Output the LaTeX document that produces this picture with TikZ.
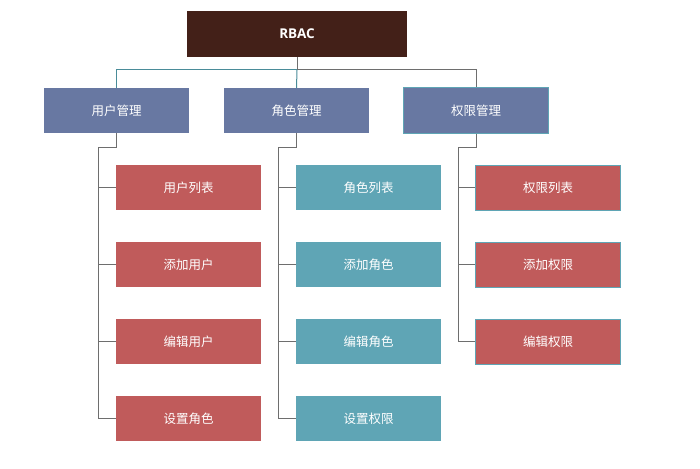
\documentclass[tikz,border=0pt]{standalone}
\usepackage{fontspec}
\setmainfont{Open Sans}
\newfontfamily\cjk{Noto Sans CJK SC}
\definecolor{rootc}{HTML}{432018}
\definecolor{midc}{HTML}{6878A2}
\definecolor{redc}{HTML}{C05B5B}
\definecolor{tealc}{HTML}{5FA5B5}
\definecolor{linec}{HTML}{6E6E6E}
\definecolor{lineteal}{HTML}{4A8C99}
\begin{document}
\begin{tikzpicture}[x=1pt,y=-1pt,
  box/.style={minimum width=145pt,minimum height=45pt,inner sep=0pt,text=white,font=\cjk\fontsize{12.5}{14}\selectfont},
  rootbox/.style={box,fill=rootc,minimum width=220pt,minimum height=46pt,font=\bfseries\fontsize{13.5}{15}\selectfont},
  midbox/.style={box,fill=midc},
  redbox/.style={box,fill=redc},
  tealbox/.style={box,fill=tealc},
  conn/.style={draw=linec,line width=1pt},
  connt/.style={draw=lineteal,line width=1pt}]
\useasboundingbox (0,0) rectangle (700,468);
\node[rootbox] (root) at (297,34) {RBAC};
\node[midbox] (m1) at (116.5,110.5) {用户管理};
\node[midbox] (m2) at (296.5,110.5) {角色管理};
\node[midbox,draw=tealc,line width=1pt] (m3) at (476,110.5) {权限管理};
% column 1
\node[redbox] (a1) at (188.5,187.5) {用户列表};
\node[redbox] (a2) at (188.5,264.5) {添加用户};
\node[redbox] (a3) at (188.5,341.5) {编辑用户};
\node[redbox] (a4) at (188.5,418.5) {设置角色};
% column 2
\node[tealbox] (b1) at (368.5,187.5) {角色列表};
\node[tealbox] (b2) at (368.5,264.5) {添加角色};
\node[tealbox] (b3) at (368.5,341.5) {编辑角色};
\node[tealbox] (b4) at (368.5,418.5) {设置权限};
% column 3
\node[redbox,draw=tealc,line width=1pt] (c1) at (548,187.5) {权限列表};
\node[redbox,draw=tealc,line width=1pt] (c2) at (548,264.5) {添加权限};
\node[redbox,draw=tealc,line width=1pt] (c3) at (548,341.5) {编辑权限};
% root connectors
\coordinate (bar) at (297,70);
\draw[conn] (root.south) -- (bar);
\draw[connt] (bar) -| (m1.north);
\draw[conn] (bar) -| (m3.north);
\draw[connt] (bar) -- (m2.north);
% column connectors
\foreach \p/\x/\last in {m1/98/a4, m2/278/b4, m3/458/c3}{
  \draw[conn] (\p.south) -- ++(0,14) -| (\x,0 |- \last.west) -- (\last.west);
}
\foreach \c/\x in {a1/98,a2/98,a3/98,b1/278,b2/278,b3/278,c1/458,c2/458}{
  \draw[conn] (\x,0 |- \c.west) -- (\c.west);
}
\end{tikzpicture}
\end{document}
